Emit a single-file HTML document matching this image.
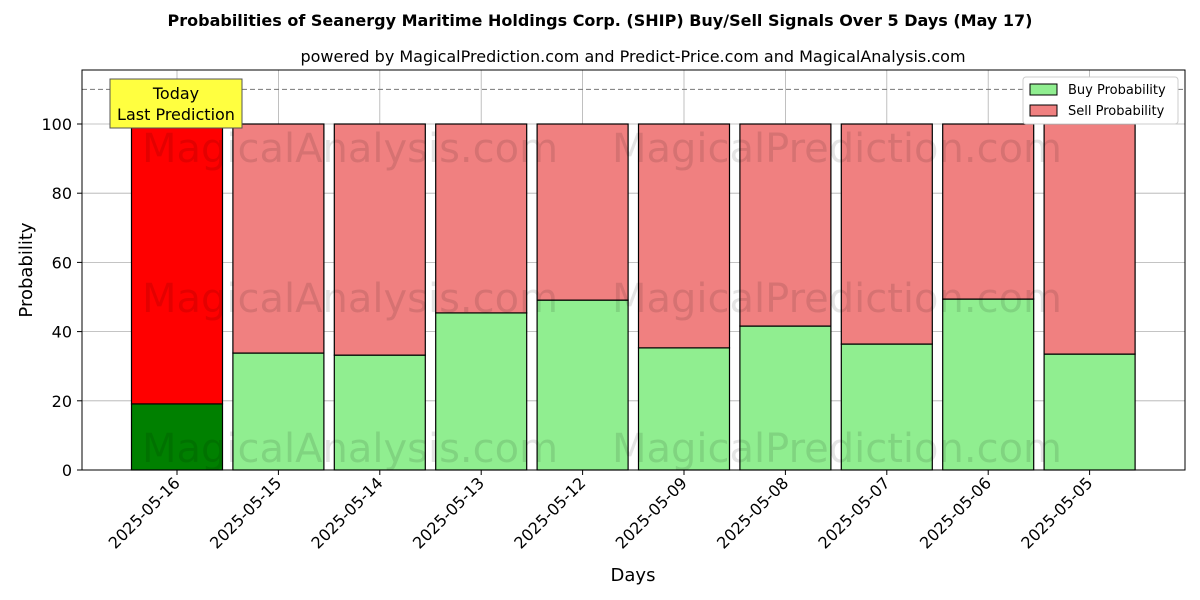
<!DOCTYPE html>
<html><head><meta charset="utf-8"><style>body{margin:0;background:#fff}svg{display:block;font-family:"DejaVu Sans","Liberation Sans",sans-serif}</style></head>
<body>
<svg id="chart" width="1200" height="600" viewBox="0 0 1200 600">
<text x="600" y="26" text-anchor="middle" font-size="16" font-weight="bold">Probabilities of Seanergy Maritime Holdings Corp. (SHIP) Buy/Sell Signals Over 5 Days (May 17)</text>
<text x="633" y="62" text-anchor="middle" font-size="16">powered by MagicalPrediction.com and Predict-Price.com and MagicalAnalysis.com</text>
<g id="grid"></g>
<g id="bars"></g>
<g id="wm" fill="#000" opacity="0.1" font-size="40" text-anchor="middle">
<text x="350" y="162">MagicalAnalysis.com</text>
<text x="837" y="162">MagicalPrediction.com</text>
<text x="350" y="312">MagicalAnalysis.com</text>
<text x="837" y="312">MagicalPrediction.com</text>
<text x="350" y="462">MagicalAnalysis.com</text>
<text x="837" y="462">MagicalPrediction.com</text>
</g>
<line x1="82" x2="1185" y1="89.4" y2="89.4" stroke="#777" stroke-dasharray="5,3"/>
<rect x="82" y="70" width="1103" height="400" fill="none" stroke="#000"/>
<g id="axes" font-size="16"></g>
<text x="633" y="581" text-anchor="middle" font-size="18">Days</text>
<text x="32" y="270" text-anchor="middle" font-size="18" transform="rotate(-90 32 270)">Probability</text>
<g>
<rect x="110" y="79" width="132" height="49" fill="#ffff40" stroke="#555"/>
<text x="176" y="99" text-anchor="middle" font-size="16">Today</text>
<text x="176" y="120" text-anchor="middle" font-size="16">Last Prediction</text>
</g>
<g>
<rect x="1023" y="77" width="155" height="47" fill="#fff" stroke="#ccc" rx="3"/>
<rect x="1030" y="84" width="27" height="11" fill="#90ee90" stroke="#000"/>
<text x="1068" y="94" font-size="13">Buy Probability</text>
<rect x="1030" y="105" width="27" height="11" fill="#f08080" stroke="#000"/>
<text x="1068" y="115" font-size="13">Sell Probability</text>
</g>
</svg>
<script>
const categories = ["2025-05-16","2025-05-15","2025-05-14","2025-05-13","2025-05-12","2025-05-09","2025-05-08","2025-05-07","2025-05-06","2025-05-05"];
const buyValues = [19.1,33.8,33.2,45.4,49.1,35.3,41.6,36.4,49.4,33.5];
const sellValues = buyValues.map(v => 100 - v);
const yTicks = [0,20,40,60,80,100];
const NS = "http://www.w3.org/2000/svg";
const x = i => 177 + i * 101.4;
const y = v => 470 - v * 3.46;
const bw = 91;
function mk(tag, attrs, parent) { const e = document.createElementNS(NS, tag); for (const k in attrs) e.setAttribute(k, attrs[k]); parent.appendChild(e); return e; }
const grid = document.getElementById('grid'), bars = document.getElementById('bars'), axes = document.getElementById('axes');
yTicks.forEach(t => {
  const g = mk('line', {x1:82, x2:1185, y1:y(t), y2:y(t), stroke:'#b0b0b0', 'stroke-width':0.8}, grid);
  
  
  mk('line', {x1:77, x2:82, y1:y(t), y2:y(t), stroke:'#000'}, axes);
  const l = mk('text', {x:72, y:y(t)+6, 'text-anchor':'end'}, axes);
  l.textContent = t;
  
  
});
categories.forEach((c, i) => {
  const g = mk('line', {x1:x(i), x2:x(i), y1:70, y2:470, stroke:'#b0b0b0', 'stroke-width':0.8}, grid);
  
  
  const b = mk('rect', {x:x(i)-bw/2, y:y(buyValues[i]), width:bw, height:y(0)-y(buyValues[i]), fill:i===0?'#008000':'#90ee90', stroke:'#000', 'stroke-width':1.2}, bars);
  
  
  const s = mk('rect', {x:x(i)-bw/2, y:y(buyValues[i]+sellValues[i]), width:bw, height:y(buyValues[i])-y(buyValues[i]+sellValues[i]), fill:i===0?'#ff0000':'#f08080', stroke:'#000', 'stroke-width':1.2}, bars);
  
  
  mk('line', {x1:x(i), x2:x(i), y1:470, y2:475, stroke:'#000'}, axes);
  const l = mk('text', {x:x(i)+4, y:484, 'text-anchor':'end', transform:`rotate(-45 ${x(i)+4} 484)`}, axes);
  l.textContent = c;
  
  
});
</script>
</body></html>
